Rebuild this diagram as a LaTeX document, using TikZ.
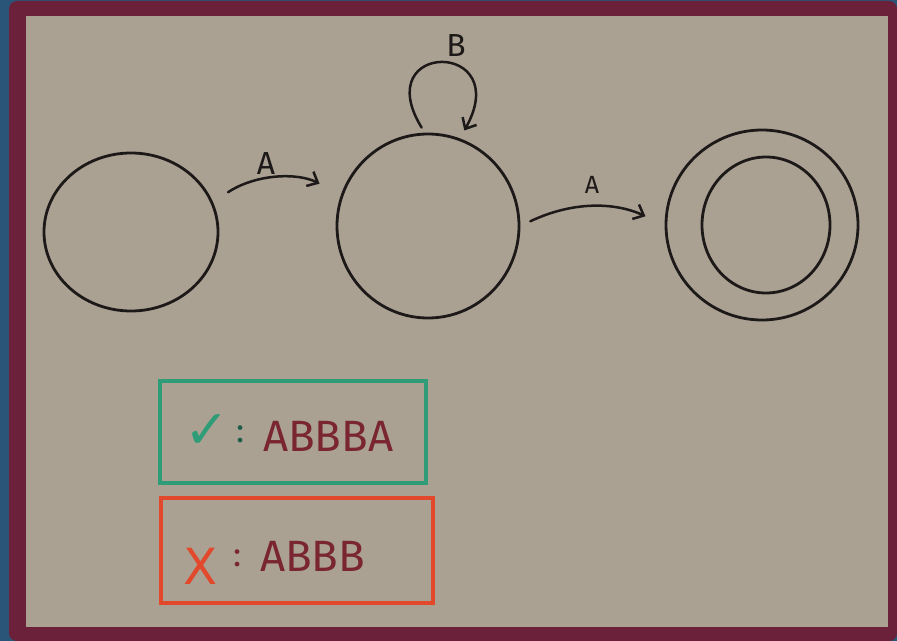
\documentclass[tikz,border=0pt]{standalone}
\usepackage{fontspec}
\setmainfont{Fira Sans}
\newfontfamily\symfont{DejaVu Sans}
\usetikzlibrary{shapes.geometric,arrows.meta}
\definecolor{sea}{HTML}{2B5479}
\definecolor{frame}{HTML}{6A2139}
\definecolor{board}{HTML}{AAA193}
\definecolor{ink}{HTML}{1D1918}
\definecolor{okgreen}{HTML}{2F9C78}
\definecolor{badred}{HTML}{E2482B}
\definecolor{word}{HTML}{7A2632}

\begin{document}
\begin{tikzpicture}[x=1bp,y=-1bp,
  state/.style={draw=ink,ellipse,line width=2.8bp,inner sep=0pt},
  arr/.style={draw=ink,line width=2.5bp,line cap=round,
    -{Straight Barb[length=9bp,width=16bp,line width=2.5bp]}},
  lbl/.style={text=ink,font=\fontsize{32}{32}\selectfont,inner sep=0pt},
  testbox/.style={draw,line width=4bp,rectangle,inner sep=0pt},
  word/.style={text=word,font=\fontsize{44}{44}\selectfont,inner sep=0pt}]
\useasboundingbox (0,0) rectangle (897,641);
\fill[sea] (0,0) rectangle (897,641);
\fill[frame,rounded corners=8bp] (9,1) rectangle (897,641);
\fill[board] (26,16) rectangle (888,627);

% states
\node[state,minimum width=174bp,minimum height=158bp] (s1) at (131,232) {};
\node[state,minimum width=182bp,minimum height=184bp] (s2) at (428,226) {};
\node[state,minimum width=192bp,minimum height=190bp] (s3) at (762,225) {};
\node[state,minimum width=128bp,minimum height=136bp] (s3in) at (766,225) {};

% transitions
\draw[arr,shorten <=18bp,shorten >=24bp] (s1.20) to[bend left=30] (s2.160);
\draw[arr,shorten <=11bp,shorten >=21bp] (s2.east) to[bend left=25] (s3.west);
\draw[arr,shorten <=6bp,shorten >=9bp] (s2.92) .. controls (368,40) and (515,40) .. (s2.70);
\node[lbl] (a1) at (266,164) {A};
\node[lbl] (b) at (456,46) {B};
\node[lbl,font=\fontsize{25}{25}\selectfont] (a2) at (592,185) {A};

% example words
\node[testbox,draw=okgreen,minimum width=266bp,minimum height=102bp] (good) at (293,432) {};
\node[text=okgreen,font=\symfont\fontsize{54}{54}\selectfont,inner sep=0pt] (tick) at (207,432) {✓};
\node[text=okgreen!60!black,font=\fontsize{34}{34}\selectfont,inner sep=0pt] (goodcolon) at (241,434) {:};
\node[word,anchor=west] (goodword) at (263,436) {ABBBA};

\node[testbox,draw=badred,minimum width=272bp,minimum height=105bp] (bad) at (297,550) {};
\node[text=badred,font=\symfont\fontsize{50}{50}\selectfont,inner sep=0pt] (cross) at (201,566) {X};
\node[text=word,font=\fontsize{34}{34}\selectfont,inner sep=0pt] (badcolon) at (238,558) {:};
\node[word,anchor=west] (badword) at (260,556) {ABBB};
\end{tikzpicture}
\end{document}
